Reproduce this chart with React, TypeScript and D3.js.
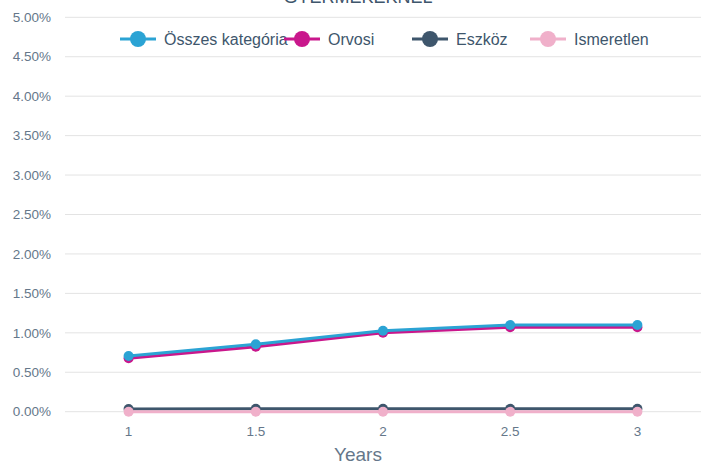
import React from "react";
import * as d3 from "d3";

const years = [1, 1.5, 2, 2.5, 3];
const seriesNames = ["Összes kategória", "Orvosi", "Eszköz", "Ismeretlen"];
const seriesColors = ["#2ba3d4", "#c9178c", "#3e566c", "#f0b0ca"];
const osszes = [0.706, 0.854, 1.027, 1.10, 1.10];
const orvosi = [0.677, 0.824, 1.001, 1.07, 1.07];
const eszkoz = [0.034, 0.036, 0.036, 0.036, 0.036];
const ismeretlen = [0.0, 0.0, 0.0, 0.0, 0.0];
const yTicks = [0, 0.5, 1, 1.5, 2, 2.5, 3, 3.5, 4, 4.5, 5];
const xTicks = [1, 1.5, 2, 2.5, 3];

const W = 718;
const H = 466;
const font = "'Liberation Sans', Arial, Helvetica, sans-serif";

export default function App() {
  const x = d3.scaleLinear().domain([0.75, 3.25]).range([65, 701]);
  const y = d3.scaleLinear().domain([0, 5]).range([411.7, 17.3]);
  const values = [osszes, orvosi, eszkoz, ismeretlen];
  const drawOrder = [2, 1, 0, 3];

  const line = d3
    .line<number>()
    .x((_, i) => x(years[i]))
    .y((d) => y(d));

  const legendX = [138, 302, 430, 548];

  return (
    <svg
      width={W}
      height={H}
      style={{ position: "absolute", left: 0, top: 0, background: "#fff" }}
      fontFamily={font}
    >
      <text x={358} y={3} textAnchor="middle" fontSize={18} fill="#3e566c">
        GYERMEKEKNÉL
      </text>

      {yTicks.map((t) => (
        <g key={t}>
          <line x1={65} x2={701} y1={y(t)} y2={y(t)} stroke="#e3e3e3" strokeWidth={1} />
          <text
            x={51}
            y={y(t)}
            dy="0.35em"
            textAnchor="end"
            fontSize={13.5}
            fill="#65778a"
          >
            {t.toFixed(2) + "%"}
          </text>
        </g>
      ))}

      {xTicks.map((t) => (
        <text key={t} x={x(t)} y={436} textAnchor="middle" fontSize={13.5} fill="#65778a">
          {t}
        </text>
      ))}

      <text x={358} y={461} textAnchor="middle" fontSize={19} fill="#65778a">
        Years
      </text>

      {drawOrder.map((si) => (
        <g key={si}>
          <path
            d={line(values[si]) || ""}
            fill="none"
            stroke={seriesColors[si]}
            strokeWidth={3}
          />
          {values[si].map((v, i) => (
            <circle key={i} cx={x(years[i])} cy={y(v)} r={5} fill={seriesColors[si]} />
          ))}
        </g>
      ))}

      {seriesNames.map((name, i) => (
        <g key={name}>
          <line
            x1={legendX[i] - 18}
            x2={legendX[i] + 18}
            y1={39}
            y2={39}
            stroke={seriesColors[i]}
            strokeWidth={3}
          />
          <circle cx={legendX[i]} cy={39} r={8} fill={seriesColors[i]} />
          <text x={legendX[i] + 26} y={39} dy="0.35em" fontSize={16} fill="#3e566c">
            {name}
          </text>
        </g>
      ))}
    </svg>
  );
}
